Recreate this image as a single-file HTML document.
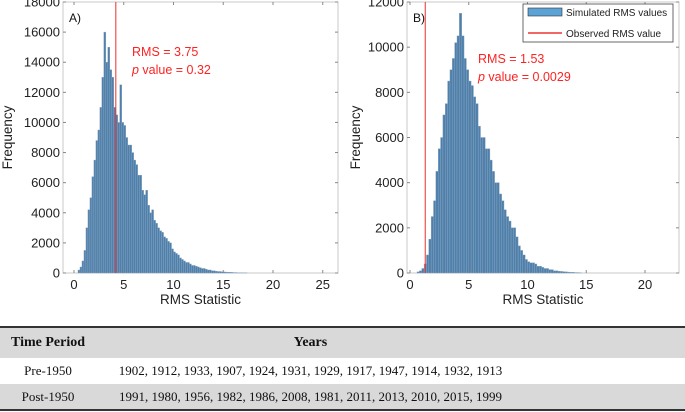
<!DOCTYPE html>
<html><head><meta charset="utf-8">
<style>
body{margin:0;background:#fff;width:685px;height:412px;overflow:hidden;font-family:"Liberation Sans",sans-serif}
svg{position:absolute;left:0;top:0}
table{position:absolute;left:0;top:326px;width:685px;border-collapse:collapse;table-layout:fixed;font-family:"Liberation Serif",serif;border-top:2px solid #333;border-bottom:2px solid #333}
td,th{text-align:center;padding:0;color:#111;white-space:nowrap}
td.c2,th.c2{padding-right:160px}
th{height:30px;font-size:14px;background:#d9d9d9}
tr.r1 td{height:26px;font-size:13px;background:#fff}
tr.r2 td{height:25px;font-size:13px;background:#d9d9d9}
</style></head><body>
<svg id="chart" width="685" height="320"></svg>
<table>
<colgroup><col style="width:96px"><col></colgroup>
<tr><th>Time Period</th><th class="c2">Years</th></tr>
<tr class="r1"><td>Pre-1950</td><td class="c2">1902, 1912, 1933, 1907, 1924, 1931, 1929, 1917, 1947, 1914, 1932, 1913</td></tr>
<tr class="r2"><td>Post-1950</td><td class="c2">1991, 1980, 1956, 1982, 1986, 2008, 1981, 2011, 2013, 2010, 2015, 1999</td></tr>
</table>
<script>
const binWidth = 0.2;
const startA = 0.4;
const countsA = [0.2,0.4,0.8,1.5,3,4.2,5,6.4,7.5,8.8,9.5,11,13,16,14,15,13.5,13,11,10.5,10,12.5,10,9.8,9,8.5,8.5,8,7.5,7.2,6.5,6.5,5.5,5.2,5.5,4.5,4.0,4.2,3.5,3.3,3.0,2.8,2.7,2.4,2.3,2.1,2.0,1.6,1.4,1.3,1.2,1.0,0.9,0.8,0.7,0.7,0.6,0.5,0.5,0.45,0.4,0.35,0.3,0.3,0.25,0.2,0.2,0.15,0.15,0.12,0.1,0.1,0.08,0.07,0.06,0.05,0.05,0.04,0.03,0.03,0.02,0.02,0.02,0.01,0.01];
const startB = 0.6;
const countsB = [0.05,0.1,0.2,0.4,0.8,1.5,2.5,3.2,4.5,5.5,6,7,7.5,8.5,9,9.5,10.2,10.5,11.5,10.5,9.5,9,8.5,8.3,7.8,7.5,6.5,6,6,5.5,5.5,5,4.5,4,4,3.5,3.2,2.8,2.5,2.3,2.0,2.0,1.6,1.2,1.0,0.8,0.6,0.5,0.45,0.45,0.4,0.3,0.3,0.25,0.2,0.2,0.15,0.15,0.1,0.1,0.08,0.07,0.06,0.05,0.04,0.03,0.03,0.02,0.02,0.01];
const observedA = 4.2, observedB = 1.3;
const xTicksA = [0,5,10,15,20,25];
const xTicksB = [0,5,10,15,20];
const yTicksA = [0,2000,4000,6000,8000,10000,12000,14000,16000,18000];
const yTicksB = [0,2000,4000,6000,8000,10000,12000];

const NS="http://www.w3.org/2000/svg";
const svg=document.getElementById('chart');
function mk(tag,attrs,parent,text){const e=document.createElementNS(NS,tag);for(const k in attrs)e.setAttribute(k,attrs[k]);if(text!==undefined)e.textContent=text;(parent||svg).appendChild(e);return e;}

function panel(cfg){
  const g=mk('g',{});
  
  
  const xs=v=>cfg.x0+(v-0)*cfg.pxU;
  const ys=v=>cfg.yb-(v/cfg.ymax)*(cfg.yb-cfg.yt);
  const box=mk('rect',{x:cfg.L,y:cfg.yt,width:cfg.R-cfg.L,height:cfg.yb-cfg.yt,fill:'none',stroke:'#c8c8c8','stroke-width':1},g);
  
  
  cfg.counts.forEach((c,i)=>{
    const x=cfg.start+i*binWidth;
    const h=c*1000;
    const r=mk('rect',{x:xs(x),y:ys(h),width:binWidth*cfg.pxU,height:cfg.yb-ys(h),fill:'#4f80ab',stroke:'#8aa6c0','stroke-width':0.4},g);
    
    
  });
  cfg.yTicks.forEach(t=>{
    const y=ys(t);
    mk('line',{x1:cfg.L,x2:cfg.L+3,y1:y,y2:y,stroke:'#888'},g);
    mk('line',{x1:cfg.R,x2:cfg.R-3,y1:y,y2:y,stroke:'#888'},g);
    const tx=mk('text',{x:cfg.L-3,y:y+4.5,'text-anchor':'end','font-size':13,fill:'#222'},g,t);
    
    
  });
  cfg.xTicks.forEach(t=>{
    const x=xs(t);
    mk('line',{x1:x,x2:x,y1:cfg.yb,y2:cfg.yb-3,stroke:'#888'},g);
    mk('line',{x1:x,x2:x,y1:cfg.yt,y2:cfg.yt+3,stroke:'#888'},g);
    const tx=mk('text',{x:x,y:cfg.yb+16,'text-anchor':'middle','font-size':13,fill:'#222'},g,t);
    
    
  });
  const ox=xs(cfg.obs);
  const ln=mk('line',{x1:ox,x2:ox,y1:cfg.yt,y2:cfg.yb,stroke:'#e33','stroke-width':1.2,opacity:0.85},g);
  
  
  const xt=mk('text',{x:(cfg.L+cfg.R)/2,y:304,'text-anchor':'middle','font-size':13.5,fill:'#222'},g,'RMS Statistic');
  
  
  const yt=mk('text',{x:0,y:0,'text-anchor':'middle','font-size':13.5,fill:'#222',transform:`translate(${cfg.yTitleX},${(cfg.yt+cfg.yb)/2}) rotate(-90)`},g,'Frequency');
  
  
  const pl=mk('text',{x:cfg.L+6,y:22,'font-size':12,fill:'#111'},g,cfg.label);
  
  
  const a1=mk('text',{x:cfg.annX,y:cfg.annY,'font-size':12.5,fill:'#f22'},g,cfg.rms);
  
  
  const a2=mk('text',{x:cfg.annX,y:cfg.annY+18,'font-size':12.5,fill:'#f22'},g);
  
  
  mk('tspan',{'font-style':'italic'},a2,'p');
  mk('tspan',{},a2,' value = '+cfg.p);
  return g;
}
panel({id:'a',L:63,R:338,yt:2,yb:273,x0:74,pxU:9.95,ymax:18000,start:startA,counts:countsA,obs:observedA,xTicks:xTicksA,yTicks:yTicksA,yTitleX:12,label:'A)',annX:132,annY:56,rms:'RMS = 3.75',p:'0.32'});
panel({id:'b',L:407,R:679,yt:2,yb:273,x0:410,pxU:11.75,ymax:12000,start:startB,counts:countsB,obs:observedB,xTicks:xTicksB,yTicks:yTicksB,yTitleX:360,label:'B)',annX:478,annY:63,rms:'RMS = 1.53',p:'0.0029'});
const lg=mk('g',{});


mk('rect',{x:523,y:4,width:150,height:38,fill:'#fff',stroke:'#444','stroke-width':0.8},lg);
mk('rect',{x:528,y:8,width:34,height:8,fill:'#5ea3d6',stroke:'#333','stroke-width':0.6},lg);
const l1=mk('text',{x:566,y:16,'font-size':10,fill:'#222'},lg,'Simulated RMS values');


mk('line',{x1:528,x2:562,y1:33,y2:33,stroke:'#e33','stroke-width':1.5},lg);
const l2=mk('text',{x:566,y:37,'font-size':10,fill:'#222'},lg,'Observed RMS value');


</script>
</body></html>
